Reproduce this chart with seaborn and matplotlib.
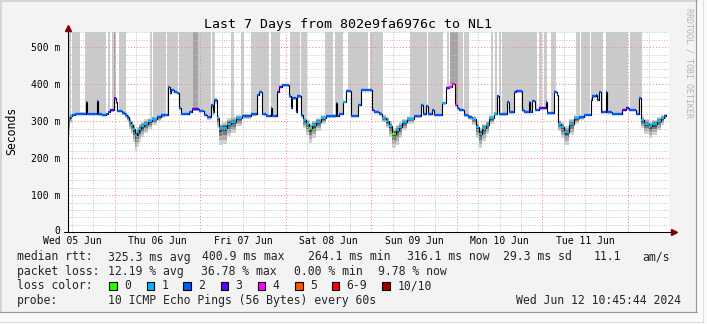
import numpy as np
import pandas as pd
import matplotlib
matplotlib.use("Agg")
import matplotlib.pyplot as plt
from matplotlib.patches import Rectangle
from matplotlib.lines import Line2D
from matplotlib.ticker import MultipleLocator, FixedLocator
from matplotlib.transforms import blended_transform_factory, ScaledTranslation
import seaborn as sns

# ---- data: hours since Wed 05 Jun 10:45:44, median rtt (ms), lost pings out of 10
hours = [
    0.0, 0.65, 1.21, 2.05, 5.0, 5.42, 8.31, 8.59, 9.63, 10.75,
    11.31, 11.87, 13.0, 13.42, 13.84, 15.24, 16.08, 16.65, 17.21, 17.77,
    18.33, 18.89, 19.45, 20.01, 20.58, 21.42, 22.54, 23.66, 25.07, 26.19,
    27.31, 28.15, 28.72, 29.08, 29.84, 30.68, 31.24, 31.89, 34.05, 34.98,
    36.86, 38.26, 39.1, 40.14, 40.65, 41.07, 41.82, 42.47, 43.4, 44.8,
    45.75, 47.16, 49.01, 51.37, 53.22, 53.7, 54.62, 55.1, 55.66, 56.98,
    57.43, 58.47, 58.83, 59.31, 60.24, 62.12, 62.6, 63.05, 64.0, 64.45,
    65.57, 66.13, 66.81, 67.73, 68.66, 69.61, 71.02, 72.42, 75.23, 75.51,
    76.15, 77.36, 78.03, 79.61, 81.49, 82.41, 85.5, 85.98, 87.38, 88.31,
    89.26, 90.19, 91.12, 92.07, 93.0, 93.92, 95.33, 97.21, 99.09, 99.82,
    100.5, 101.14, 102.34, 102.82, 105.15, 106.11, 107.03, 107.96, 108.63, 109.19,
    109.84, 111.24, 112.36, 113.57, 114.53, 115.45, 116.38, 117.33, 118.26, 119.66,
    120.59, 120.98, 123.4, 123.87, 125.28, 125.75, 126.4, 127.61, 128.08, 129.49,
    129.91, 130.42, 131.09, 132.3, 134.18, 134.63, 136.51, 137.27, 137.72, 138.39,
    139.32, 140.72, 142.13, 143.53, 144.93, 146.81, 147.26, 148.21, 148.66, 149.14,
    149.61, 150.26, 151.02, 151.47, 152.87, 155.68, 156.63, 157.56, 159.44, 160.37,
    161.01, 161.77, 163.17, 164.1, 165.5, 166.62, 167.38, 168.0]

median_ms = [
    308, 315, 318, 321, 353, 321, 355, 319, 317, 320,
    326, 330, 362, 351, 328, 322, 318, 312, 298, 290,
    278, 264.1, 270, 280, 287, 293, 300, 306, 312, 316,
    318, 394, 376, 385, 380, 377, 335, 321, 326, 332,
    328, 318, 312, 344, 325, 358, 308, 281, 283, 294,
    299, 308, 315, 319, 371, 380, 321, 319, 315, 335,
    315, 315, 380, 394, 397, 367, 335, 362, 326, 367,
    317, 303, 294, 281, 290, 299, 308, 315, 349, 315,
    321, 353, 383, 315, 344, 385, 331, 326, 321, 310,
    301, 288, 267, 276, 285, 297, 306, 315, 344, 319,
    342, 319, 331, 317, 349, 390, 394, 400.9, 344, 335,
    331, 317, 312, 306, 285, 267, 281, 290, 308, 321,
    367, 319, 353, 324, 380, 383, 383, 330, 326, 353,
    326, 355, 331, 335, 353, 322, 380, 371, 294, 285,
    272, 294, 308, 312, 317, 358, 367, 371, 358, 380,
    326, 326, 380, 324, 321, 331, 335, 331, 321, 362,
    303, 294, 287, 292, 301, 308, 315, 316.1]

loss_pings = [
    1, 1, 2, 2, 2, 2, 2, 2, 2, 2,
    2, 3, 3, 3, 2, 2, 2, 2, 1, 1,
    1, 1, 1, 1, 1, 1, 1, 1, 2, 2,
    2, 2, 2, 2, 2, 2, 2, 2, 2, 3,
    2, 2, 2, 2, 2, 2, 1, 1, 1, 1,
    1, 1, 2, 2, 2, 2, 2, 2, 2, 2,
    2, 3, 3, 3, 2, 2, 2, 2, 2, 2,
    2, 1, 1, 0, 1, 1, 1, 2, 2, 2,
    2, 1, 2, 2, 2, 2, 3, 2, 2, 1,
    1, 1, 0, 1, 1, 1, 1, 2, 2, 2,
    2, 2, 2, 2, 1, 3, 4, 4, 4, 2,
    2, 2, 2, 1, 1, 1, 1, 1, 1, 1,
    2, 2, 2, 2, 2, 3, 2, 2, 2, 2,
    2, 2, 2, 3, 2, 2, 2, 2, 1, 1,
    1, 1, 1, 2, 2, 2, 2, 2, 2, 2,
    3, 2, 2, 2, 2, 3, 3, 2, 2, 2,
    1, 1, 1, 1, 1, 1, 2, 2]

# spread of the individual pings below / above the median (ms)
smoke_below = [
    45, 20, 5, 4, 4, 4, 4, 4, 4, 4,
    4, 4, 5, 4, 4, 5, 8, 12, 18, 25,
    35, 45, 40, 35, 30, 25, 20, 15, 10, 6,
    4, 4, 4, 4, 4, 4, 4, 4, 4, 4,
    4, 5, 8, 10, 12, 10, 25, 45, 45, 35,
    30, 20, 10, 5, 4, 4, 4, 4, 4, 4,
    4, 4, 4, 4, 4, 4, 4, 4, 4, 4,
    8, 20, 30, 40, 35, 25, 15, 6, 4, 4,
    4, 4, 4, 4, 4, 4, 4, 4, 5, 12,
    20, 30, 40, 40, 30, 20, 12, 5, 4, 4,
    4, 4, 4, 4, 4, 4, 4, 4, 4, 4,
    4, 5, 8, 15, 30, 40, 35, 25, 15, 6,
    4, 4, 4, 4, 4, 4, 4, 4, 4, 4,
    4, 4, 4, 4, 4, 4, 4, 4, 20, 30,
    35, 30, 15, 8, 4, 4, 4, 4, 4, 4,
    4, 4, 4, 4, 4, 4, 4, 4, 4, 4,
    20, 28, 32, 30, 25, 18, 10, 10]

smoke_above = [
    10, 6, 4, 3, 3, 3, 3, 3, 3, 3,
    3, 3, 5, 3, 3, 4, 5, 6, 10, 12,
    15, 15, 15, 14, 12, 12, 10, 8, 6, 4,
    3, 3, 3, 3, 3, 3, 3, 3, 3, 3,
    3, 3, 4, 4, 5, 4, 8, 12, 14, 14,
    12, 10, 6, 4, 3, 3, 3, 3, 3, 3,
    3, 3, 3, 3, 3, 3, 3, 3, 3, 3,
    4, 8, 12, 14, 12, 10, 8, 4, 3, 3,
    3, 3, 3, 3, 3, 3, 3, 3, 4, 6,
    10, 12, 15, 14, 12, 10, 8, 4, 3, 3,
    3, 3, 3, 3, 3, 3, 3, 3, 3, 3,
    3, 4, 5, 8, 12, 14, 12, 10, 8, 4,
    3, 3, 3, 3, 3, 3, 3, 3, 3, 3,
    3, 3, 3, 3, 3, 3, 3, 3, 10, 12,
    14, 12, 8, 5, 3, 3, 3, 3, 3, 3,
    3, 3, 3, 3, 3, 3, 3, 3, 3, 3,
    10, 12, 12, 12, 10, 8, 6, 6]

# periods with lost pings (hours), drawn as grey bars above the median
loss_start = [0.36, 1.29, 4.77, 11.31, 12.52, 13.0, 13.3, 14.4, 23.1, 24.03,
              27.9, 31.35, 35.26, 36.58, 40.59, 45.75, 48.56, 51.54, 56.98, 62.4,
              65.5, 72.22, 74.95, 78.68, 84.86, 96.08, 101.14, 106.39, 107.31, 109.55,
              111.24, 118.74, 119.94, 121.07, 121.83, 132.3, 133.74, 135.75, 142.76, 144.11,
              146.94, 151.19, 157.75]
loss_end = [1.01, 3.37, 10.67, 11.79, 13.0, 13.3, 13.64, 16.37, 23.66, 27.6,
            31.1, 35.26, 36.58, 40.14, 41.35, 46.68, 49.49, 56.5, 59.59, 65.3,
            67.09, 74.56, 77.36, 84.29, 88.59, 100.77, 105.43, 107.03, 109.55, 111.04,
            112.65, 119.38, 120.42, 121.54, 131.82, 133.22, 134.5, 136.98, 143.9, 146.72,
            150.22, 157.36, 161.12]
loss_dark = [0, 0, 0, 0, 0, 1, 0, 0, 0, 0,
             0, 0, 1, 0, 0, 0, 0, 0, 0, 0,
             0, 0, 0, 0, 0, 0, 0, 0, 1, 0,
             0, 0, 0, 0, 0, 0, 0, 0, 0, 0,
             0, 0, 0]

day_labels = ["Wed 05 Jun", "Thu 06 Jun", "Fri 07 Jun", "Sat 08 Jun",
              "Sun 09 Jun", "Mon 10 Jun", "Tue 11 Jun"]
y_ticks = [0, 100, 200, 300, 400, 500]
y_tick_labels = ["0", "100 m", "200 m", "300 m", "400 m", "500 m"]

loss_color_names = ["0", "1", "2", "3", "4", "5", "6-9", "10/10"]
loss_color_values = ["#26ff00", "#00b8ff", "#0059ff", "#5e00ff",
                     "#ff00ff", "#ff5500", "#ff0000", "#a10000"]

stats_rtt = ["325.3 ms avg", "400.9 ms max", "264.1 ms min", "316.1 ms now",
             "29.3 ms sd", "11.1", "am/s"]
stats_loss = ["12.19 % avg", "36.78 % max", "0.00 % min", "9.78 % now"]
probe_text = "10 ICMP Echo Pings (56 Bytes) every 60s"
stamp_text = "Wed Jun 12 10:45:44 2024"
title_text = "Last 7 Days from 802e9fa6976c to NL1"

# ---- figure layout
W, H, DPI = 707, 324, 100
YMAX = 540.5
XMAX = 168.8

sns.set_style("white")
MONO = "DejaVu Sans Mono"
plt.rcParams["font.family"] = [MONO, "DejaVu Sans"]

fig = plt.figure(figsize=(W / DPI, H / DPI), dpi=DPI, facecolor="#fafafa")


def fx(px):
    return px / W


def fy(py):
    return 1 - py / H


# canvas frame
fig.patches.append(Rectangle((0, fy(312)), fx(697), 312 / H, transform=fig.transFigure,
                             facecolor="#f3f3f3", edgecolor="none", zorder=-10))
for xs, ys, c, lw in [([0, 697], [1, 1], "#d4d4d4", 2.0), ([1, 1], [0, 312], "#d4d4d4", 2.0),
                      ([696, 696], [0, 312], "#9a9a9a", 1.2), ([0, 697], [311.5, 311.5], "#9a9a9a", 1.2),
                      ([703, 703], [0, 322], "#dedede", 1.0), ([0, 703], [321.5, 321.5], "#dedede", 1.0)]:
    fig.add_artist(Line2D([fx(v) for v in xs], [fy(v) for v in ys], transform=fig.transFigure,
                          color=c, lw=lw * 0.72, zorder=-5))

ax = fig.add_axes([fx(67.7), fy(232.3), (669 - 67.7) / W, 200 / H])
ax.set_zorder(1)
ax.set_facecolor("white")
ax.set_xlim(0, XMAX)
ax.set_ylim(0, YMAX)

h = np.array(hours)
m = np.array(median_ms, dtype=float)
below = np.array(smoke_below, dtype=float)
above = np.array(smoke_above, dtype=float)

# grey bars for lost pings
for s, e, dk in zip(loss_start, loss_end, loss_dark):
    xs = np.concatenate([[s], h[(h > s) & (h < e)], [e]])
    idx = np.clip(np.searchsorted(h, xs, side="right") - 1, 0, len(h) - 1)
    ax.fill_between(xs, m[idx] + above[idx], YMAX, step="post",
                    color="#a4a4a4" if dk else "#cbcbcb", lw=0, zorder=1)

# smoke around the median, darker towards the centre
for frac, col in [(1.0, "#d2d2d2"), (0.72, "#acacac"), (0.45, "#7c7c7c"), (0.22, "#474747")]:
    ax.fill_between(h, m - below * frac, m + above * frac, step="post",
                    color=col, lw=0, zorder=2)

# median line: black steps, coloured by packet loss
df = pd.DataFrame({"hours": hours, "median": median_ms})
sns.lineplot(data=df, x="hours", y="median", ax=ax, color="black", lw=0.8,
             drawstyle="steps-post", estimator=None, sort=False, zorder=4)
ax.hlines(m[:-1], h[:-1], h[1:], colors=[loss_color_values[l] for l in loss_pings[:-1]],
          lw=1.7, zorder=5)
ax.set_xlabel("")
ax.set_ylabel("")

# grid
midnights = [13.24 + 24 * k for k in range(7)]
ax.set_xticks(midnights)
ax.set_xticklabels([])
ax.xaxis.set_minor_locator(FixedLocator([1.24 + 6 * k for k in range(28)]))
ax.set_yticks(y_ticks)
ax.set_yticklabels(y_tick_labels)
ax.yaxis.set_minor_locator(MultipleLocator(20))
ax.set_axisbelow(False)
ax.grid(which="major", color="#f08a8a", linestyle=(0, (1, 2)), lw=0.75)
ax.grid(which="minor", color="#c4c4c4", linestyle=(0, (1, 1.5)), lw=0.7)

ax.tick_params(axis="y", which="major", length=2.2, width=0.7, color="#333333",
               labelsize=7, pad=3.3, labelcolor="#000000")
ax.tick_params(axis="y", which="minor", length=0)
ax.tick_params(axis="x", which="major", length=2.2, width=0.7, color="#555555")
ax.tick_params(axis="x", which="minor", length=1.2, width=0.6, color="#777777")
ylabels = ax.get_yticklabels()
for lab in ylabels:
    lab.set_fontfamily(MONO)
# lift the "0" label slightly clear of the first day label
ylabels[0].set_transform(ylabels[0].get_transform()
                         + ScaledTranslation(0, 2.0 / DPI, fig.dpi_scale_trans))

for sp in ["top", "right"]:
    ax.spines[sp].set_visible(False)
for sp in ["left", "bottom"]:
    ax.spines[sp].set_color("#000000")
    ax.spines[sp].set_linewidth(0.75)
    ax.spines[sp].set_zorder(6)

# axis extensions and arrows
ax.plot([-4 / 601.3, 0], [0, 0], transform=ax.transAxes, clip_on=False,
        color="black", lw=0.75, zorder=6)
ax.plot([1.0, 1.0 + 3 / 601.3], [0, 0], transform=ax.transAxes, clip_on=False,
        color="black", lw=0.75, zorder=6)
ax.plot([1.0 + 4.5 / 601.3], [0], transform=ax.transAxes, clip_on=False, marker=">",
        ms=4.2, color="#7f0000", mec="#7f0000", zorder=7)
ax.plot([0, 0], [1.0, 1.0 + 3 / 200], transform=ax.transAxes, clip_on=False,
        color="black", lw=0.75, zorder=6)
ax.plot([0], [1.0 + 4.8 / 200], transform=ax.transAxes, clip_on=False, marker="^",
        ms=4.2, color="#7f0000", mec="#7f0000", zorder=7)

# day labels centred at noon
trans = blended_transform_factory(ax.transData, fig.transFigure)
for k, lab in enumerate(day_labels):
    ax.text(1.24 + 24 * k, fy(244.3), lab, transform=trans, ha="center", va="baseline",
            fontsize=7.05, family=MONO, color="#000000", clip_on=False)

# titles and side text
fig.text(fx(348.5), fy(28), title_text, ha="center", va="baseline", fontsize=9.5,
         family=MONO, color="#000000")
fig.text(fx(11.7), fy(131), "Seconds", rotation=90, ha="center", va="center",
         fontsize=8.3, family=MONO, color="#000000")
fig.text(fx(689), fy(8), "RRDTOOL / TOBI OETIKER", rotation=270, ha="center", va="top",
         fontsize=6, family=MONO, color="#b4b4b4")

# legend rows
FS = 8.3
row_y = [260.5, 275.0, 289.3, 303.8]
fig.text(fx(16.7), fy(row_y[0]), "median rtt:", fontsize=FS, family=MONO, va="baseline")
for xp, t in zip([108.3, 201.7, 308.3, 407.3, 503.0, 594.0, 642.7], stats_rtt):
    fig.text(fx(xp), fy(row_y[0]), t, fontsize=FS, family=MONO, va="baseline")

fig.text(fx(16.7), fy(row_y[1]), "packet loss:", fontsize=FS, family=MONO, va="baseline")
for xp, t in zip([108.3, 201.0, 294.0, 378.0], stats_loss):
    fig.text(fx(xp), fy(row_y[1]), t, fontsize=FS, family=MONO, va="baseline")

fig.text(fx(16.7), fy(row_y[2]), "loss color:", fontsize=FS, family=MONO, va="baseline")
box_x = [109.0, 146.7, 183.3, 220.7, 257.7, 295.0, 331.7, 382.3]
for bx, name, col in zip(box_x, loss_color_names, loss_color_values):
    fig.patches.append(Rectangle((fx(bx), fy(290.0)), 7.7 / W, 7.7 / H,
                                 transform=fig.transFigure, facecolor=col,
                                 edgecolor="black", lw=0.8, zorder=3))
    fig.text(fx(bx + 15), fy(row_y[2]), name, fontsize=FS, family=MONO, va="baseline")

fig.text(fx(16.7), fy(row_y[3]), "probe:", fontsize=FS, family=MONO, va="baseline")
fig.text(fx(108.3), fy(row_y[3]), probe_text, fontsize=FS, family=MONO, va="baseline")
fig.text(fx(681), fy(row_y[3]), stamp_text, fontsize=FS, family=MONO, va="baseline", ha="right")

fig.savefig("out.png", dpi=DPI, facecolor=fig.get_facecolor())
